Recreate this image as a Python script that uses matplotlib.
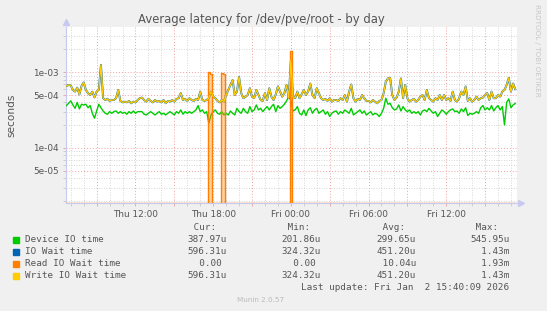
import numpy as np
import matplotlib.pyplot as plt
import matplotlib.dates as mdates
import matplotlib.ticker as mticker
import pandas as pd
from matplotlib.patches import Rectangle

# 10 minute samples starting Thu 06:40, latencies in microseconds
start = '2026-01-01 06:40'

device_us = [
    363, 389, 418, 370, 334, 400, 328, 378, 370, 378, 340, 363, 287, 247, 308, 378, 340, 308, 287, 279,
    302, 287, 302, 308, 287, 302, 287, 296, 279, 302, 287, 308, 287, 302, 302,
    302, 279, 273, 287, 302, 287, 273, 287, 302, 279, 287, 273, 287, 302, 287, 273, 302, 287, 318, 279,
    302, 287, 302, 287, 302, 318, 363, 302, 318, 287, 302, 212, 273, 302, 318,
    287, 279, 302, 273, 287, 273, 308, 287, 273, 334, 302, 287, 334, 302, 287, 352, 302, 318, 370, 318,
    334, 302, 328, 352, 318, 352, 378, 302, 363, 334, 352, 378, 418, 475, 430,
    308, 318, 352, 287, 273, 318, 268, 318, 340, 287, 318, 334, 287, 302, 318, 279, 302, 260, 287, 302,
    308, 279, 302, 287, 318, 302, 287, 334, 273, 287, 302, 318, 287, 308, 273,
    287, 302, 273, 287, 279, 260, 287, 334, 454, 378, 389, 340, 318, 328, 370, 308, 352, 318, 302, 318,
    287, 302, 287, 302, 273, 308, 318, 302, 334, 308, 287, 302, 260, 287, 318,
    302, 279, 302, 318, 328, 302, 308, 287, 328, 302, 340, 268, 287, 279, 287, 302, 287, 340, 363, 318,
    340, 318, 363, 308, 340, 363, 318, 352, 202, 400, 445, 340, 370, 388,
]

write_us = [
    660, 680, 670, 585, 555, 625, 510, 660, 735, 585, 530, 500, 555, 465, 555, 585, 1250, 454, 430, 445,
    418, 430, 430, 454, 585, 418, 400, 409, 400, 418, 389, 409, 400, 430, 454,
    463, 430, 409, 445, 418, 400, 430, 409, 418, 400, 430, 389, 418, 409, 430, 409, 445, 454, 530, 430,
    445, 418, 454, 430, 418, 445, 430, 555, 430, 418, 430, 454, 555, 480, 454,
    418, 400, 430, 409, 500, 585, 680, 790, 500, 555, 870, 530, 454, 475, 500, 615, 475, 454, 585, 500,
    430, 418, 530, 430, 615, 475, 430, 510, 650, 555, 475, 530, 680, 454, 1430,
    475, 454, 555, 454, 510, 585, 500, 555, 710, 500, 454, 615, 530, 454, 430, 445, 418, 454, 409, 430,
    430, 418, 454, 430, 500, 409, 555, 690, 454, 409, 445, 430, 500, 454, 418,
    418, 400, 430, 409, 389, 418, 430, 530, 750, 830, 845, 500, 430, 463, 555, 830, 454, 680, 454, 409,
    430, 445, 409, 430, 475, 500, 430, 585, 454, 430, 409, 454, 430, 500, 430,
    500, 430, 454, 418, 555, 430, 409, 454, 555, 500, 650, 418, 454, 409, 430, 475, 430, 454, 463, 500,
    530, 430, 555, 454, 454, 500, 475, 555, 585, 680, 845, 555, 710, 596,
]

# IO wait and write IO wait are identical here (same Cur/Min/Avg/Max)
io_wait_us = list(write_us)

read_us = [
    0, 0, 0, 0, 0, 0, 0, 0, 0, 0, 0, 0, 0, 0, 0, 0, 0, 0, 0, 0,
    0, 0, 0, 0, 0, 0, 0, 0, 0, 0, 0, 0, 0, 0, 0, 0, 0, 0, 0, 0,
    0, 0, 0, 0, 0, 0, 0, 0, 0, 0, 0, 0, 0, 0, 0, 0, 0, 0, 0, 0,
    0, 0, 0, 0, 0, 0, 1000, 950, 0, 0, 0, 0, 980, 960, 0, 0, 0, 0, 0, 0,
    0, 0, 0, 0, 0, 0, 0, 0, 0, 0, 0, 0, 0, 0, 0, 0, 0, 0, 0, 0,
    0, 0, 0, 0, 1930, 0, 0, 0, 0, 0, 0, 0, 0, 0, 0, 0, 0, 0, 0, 0,
    0, 0, 0, 0, 0, 0, 0, 0, 0, 0, 0, 0, 0, 0, 0, 0, 0, 0, 0, 0,
    0, 0, 0, 0, 0, 0, 0, 0, 0, 0, 0, 0, 0, 0, 0, 0, 0, 0, 0, 0,
    0, 0, 0, 0, 0, 0, 0, 0, 0, 0, 0, 0, 0, 0, 0, 0, 0, 0, 0, 0,
    0, 0, 0, 0, 0, 0, 0, 0, 0, 0, 0, 0, 0, 0, 0, 0, 0, 0, 0, 0,
    0, 0, 0, 0, 0, 0, 0, 0, 0,
]

labels = ['Device IO time', 'IO Wait time', 'Read IO Wait time', 'Write IO Wait time']
colors = ['#00CC00', '#0066B3', '#FF8000', '#FFCC00']
cur = ['387.97u', '596.31u', '  0.00 ', '596.31u']
mins = ['201.86u', '324.32u', '  0.00 ', '324.32u']
avgs = ['299.65u', '451.20u', ' 10.04u', '451.20u']
maxs = ['545.95u', '  1.43m', '  1.93m', '  1.43m']

W, H = 547, 311
ylo, yhi = 1.876e-5, 3.9e-3

t = pd.date_range(start, periods=len(device_us), freq='10min')
device = np.array(device_us) * 1e-6
io_wait = np.array(io_wait_us) * 1e-6
read = np.clip(np.array(read_us) * 1e-6, ylo, None)
write = np.array(write_us) * 1e-6

fig = plt.figure(figsize=(W / 100, H / 100), dpi=100, facecolor='#F0F0F0')
ax = fig.add_axes([66 / W, 108 / H, 451 / W, 175.5 / H])
ax.set_facecolor('white')

ax.plot(t, device, color=colors[0], lw=1.0, zorder=3)
ax.plot(t, io_wait, color=colors[1], lw=1.4, zorder=4)
ax.fill_between(t, read, ylo, step='mid', color=colors[2], alpha=0.35, lw=0, zorder=4)
ax.plot(t, read, color=colors[2], lw=1.0, drawstyle='steps-mid', zorder=5)
ax.plot(t, write, color=colors[3], lw=1.0, zorder=6)

ax.set_yscale('log')
ax.set_ylim(ylo, yhi)
ax.set_xlim(pd.Timestamp('2026-01-01 06:38'), pd.Timestamp('2026-01-02 17:28'))

ax.yaxis.set_major_locator(mticker.FixedLocator([5e-5, 1e-4, 5e-4, 1e-3]))
ax.yaxis.set_major_formatter(mticker.FuncFormatter(lambda v, p: '%.0e' % v))
ax.yaxis.set_minor_locator(mticker.LogLocator(subs=np.arange(1, 10)))
ax.yaxis.set_minor_formatter(mticker.NullFormatter())

ax.xaxis.set_major_locator(mdates.HourLocator(byhour=range(0, 24, 3)))
ax.xaxis.set_minor_locator(mdates.HourLocator())


def fmt_time(v, pos):
    d = mdates.num2date(v)
    return d.strftime('%a %H:%M') if d.hour % 6 == 0 else ''


ax.xaxis.set_major_formatter(mticker.FuncFormatter(fmt_time))

ax.grid(which='minor', color='#C8C8C8', linestyle=(0, (1, 2)), lw=0.6)
ax.grid(which='major', color='#F0A0A0', linestyle=(0, (1, 2)), lw=0.7)
ax.set_axisbelow(True)

ax.tick_params(which='both', length=2, width=0.6, colors='#E8A0A0', labelcolor='#555555', labelsize=6.4, pad=3)
ax.tick_params(which='minor', colors='#C8C8C8')
for s in ['top', 'right']:
    ax.spines[s].set_visible(False)
for s in ['left', 'bottom']:
    ax.spines[s].set_color('#C8C8F0')
    ax.spines[s].set_linewidth(0.8)
ax.plot([0], [1.03], marker='^', ms=4, color='#C8C8F0', transform=ax.transAxes, clip_on=False)
ax.plot([1.008], [0], marker='>', ms=4, color='#C8C8F0', transform=ax.transAxes, clip_on=False)

ax.set_ylabel('seconds', fontsize=7.6, color='#555555', labelpad=12)

fig.text(261 / W, 1 - 19 / H, 'Average latency for /dev/pve/root - by day',
         ha='center', va='center', fontsize=8.4, color='#555555')
fig.text(537 / W, 1 - 4 / H, 'RRDTOOL / TOBI OETIKER', rotation=270, ha='center', va='top',
         fontsize=5.2, color='#C8C8C8')

# legend block
mono = 'DejaVu Sans Mono'
fs = 6.7
cols = [187.7, 281.7, 376.7, 470.0]
for x, head in zip(cols, ['Cur:', 'Min:', 'Avg:', 'Max:']):
    fig.text(x / W, 1 - 227.7 / H, ' ' + head, family=mono, fontsize=fs, color='#555555',
             ha='left', va='center')
rows_y = [239.7, 251.7, 263.5, 275.7]
for i in range(4):
    yy = 1 - rows_y[i] / H
    fig.patches.append(Rectangle((13.3 / W, yy - 3 / H), 6 / W, 6 / H, color=colors[i],
                                 transform=fig.transFigure, figure=fig))
    fig.text(25 / W, yy, labels[i], family=mono, fontsize=fs, color='#555555', ha='left', va='center')
    for x, val in zip(cols, [cur[i], mins[i], avgs[i], maxs[i]]):
        fig.text(x / W, yy, val, family=mono, fontsize=fs, color='#555555', ha='left', va='center')
fig.text(509 / W, 1 - 288 / H, 'Last update: Fri Jan  2 15:40:09 2026', family=mono, fontsize=fs,
         color='#555555', ha='right', va='center')
fig.text(261 / W, 1 - 300 / H, 'Munin 2.0.57', fontsize=5.2, color='#BBBBBB', ha='center', va='center')

fig.savefig('out.png', dpi=100, facecolor=fig.get_facecolor())
